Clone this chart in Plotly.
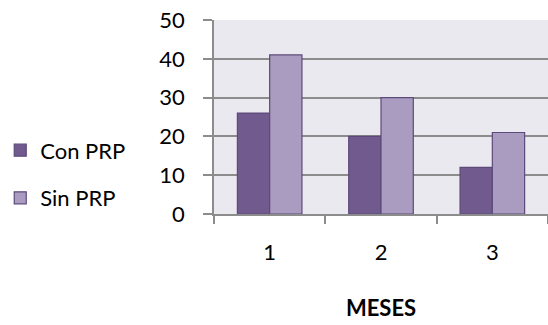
import plotly.graph_objects as go

meses = ["1", "2", "3"]
con_prp = [26, 20, 12]
sin_prp = [41, 30, 21]
y_ticks = [0, 10, 20, 30, 40, 50]

FONT = "Lato, Carlito, Calibri, sans-serif"
FS = 22
EDGE = "#5d4a7a"
AXIS = "#8c8c8c"

fig = go.Figure()
fig.add_trace(go.Bar(
    name="Con PRP", x=meses, y=con_prp, legendgroup="a",
    marker=dict(color="#705a8e", line=dict(color=EDGE, width=1.2)),
))
fig.add_trace(go.Bar(
    name="Sin PRP", x=meses, y=sin_prp, legendgroup="b",
    marker=dict(color="#aa9cc0", line=dict(color=EDGE, width=1.2)),
))

fig.update_layout(
    width=548, height=325,
    margin=dict(l=214, r=0, t=20, b=111),
    paper_bgcolor="white",
    plot_bgcolor="#ebe9f0",
    barmode="group",
    bargap=0.42,
    bargroupgap=0,
    font=dict(family=FONT, size=FS, color="black"),
    showlegend=True,
    legend=dict(
        x=-0.64, xanchor="left", y=0.204, yanchor="middle",
        font=dict(family=FONT, size=FS, color="black"),
        tracegroupgap=16, bgcolor="rgba(0,0,0,0)",
        itemwidth=30,
    ),
    xaxis=dict(
        type="category",
        showline=True, linecolor=AXIS, linewidth=1.5,
        ticks="outside", tickson="boundaries", ticklen=8,
        tickcolor=AXIS, tickwidth=1.5,
        ticklabelstandoff=18,
        tickfont=dict(family=FONT, size=FS),
        title=dict(text="<b>MESES</b>", font=dict(family=FONT, size=FS), standoff=36),
    ),
    yaxis=dict(
        range=[0, 50], tickvals=y_ticks,
        showline=True, linecolor=AXIS, linewidth=1.5,
        ticks="outside", ticklen=9, tickcolor=AXIS, tickwidth=1.5,
        ticklabelstandoff=14,
        showgrid=True, gridcolor=AXIS, gridwidth=1.5,
        zeroline=False,
        tickfont=dict(family=FONT, size=FS),
    ),
)

fig.write_html("out.html")
